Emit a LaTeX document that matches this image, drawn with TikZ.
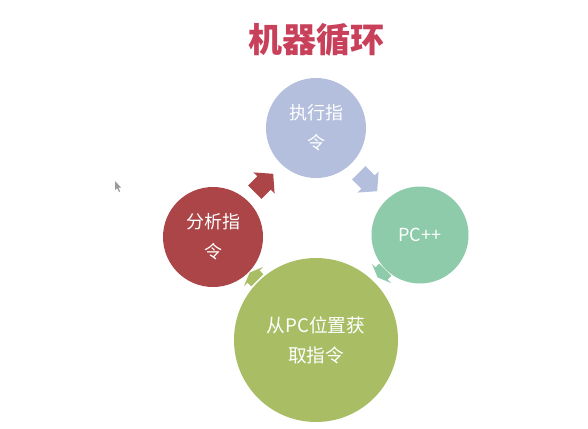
\documentclass[tikz,border=0pt]{standalone}
\usepackage{fontspec}
\newfontfamily\cjk{Noto Sans CJK SC}
\definecolor{titlered}{HTML}{C8405A}
\definecolor{stepblue}{HTML}{B3BFDD}
\definecolor{stepteal}{HTML}{8DCBAB}
\definecolor{stepolive}{HTML}{A8BD64}
\definecolor{stepred}{HTML}{AC4548}
\definecolor{pointergray}{HTML}{9A9A9A}
\begin{document}
\begin{tikzpicture}[x=0.75pt,y=-0.75pt,
  stage/.style={circle,inner sep=0pt,text=white,align=center,
    font=\cjk\fontsize{13.5}{22.5}\selectfont},
  blockarrow/.pic={\fill (-13,-9.5) -- (0,-9.5) -- (0,-15) -- (13,0) -- (0,15) -- (0,9.5) -- (-13,9.5) -- cycle;}
]
\useasboundingbox[fill=white] (0,0) rectangle (588,428);

% title
\node[text=titlered,font=\cjk\bfseries\fontsize{25.5}{30}\selectfont] (title) at (316,40) {机器循环};

% block arrows of the cycle; the two lower ones are squeezed into the narrow gaps
\pic[fill=stepred,rotate=45] at (264,183) {blockarrow};
\pic[fill=stepblue,rotate=-45] at (368,182) {blockarrow};
\pic[fill=stepteal,rotate=-135,xscale=0.42,yscale=0.9] at (381.5,273.5) {blockarrow};
\pic[fill=stepolive,rotate=135,xscale=0.42,yscale=0.9] at (253.5,276.5) {blockarrow};

% the four stages
\node[stage,fill=stepblue,minimum size=75pt] (exec) at (316,128) {执行指\\令};
\node[stage,fill=stepteal,minimum size=72.75pt] (pcpp) at (420,235) {PC++};
\node[stage,fill=stepolive,minimum size=123pt,font=\cjk\fontsize{14}{22.5}\selectfont] (fetch) at (316,340) {从PC位置获\\取指令};
\node[stage,fill=stepred,minimum size=75pt] (decode) at (213,237) {分析指\\令};

% mouse pointer
\fill[pointergray] (115,181) -- (115,190) -- (117,188) -- (119,192) -- (120,191.5) -- (118.5,187.5) -- (121,187.5) -- cycle;
\end{tikzpicture}
\end{document}
